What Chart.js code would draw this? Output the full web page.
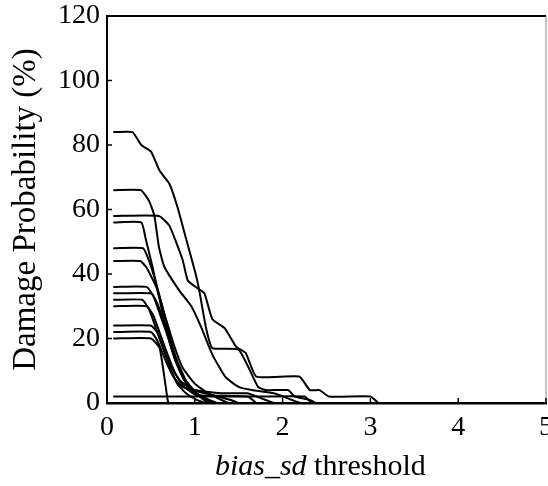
<!DOCTYPE html>
<html>
<head>
<meta charset="utf-8">
<script src="https://cdn.jsdelivr.net/npm/chart.js@4/dist/chart.umd.min.js"></script>
<style>
  html, body { margin: 0; padding: 0; background: #fff; }
  #wrap { position: relative; width: 548px; height: 486px; }
</style>
</head>
<body>
<div id="wrap"><canvas id="c" width="548" height="486"></canvas></div>
<script>
// ---- data (x = bias_sd threshold, y = damage probability %) ----
const xTickValues = [0, 1, 2, 3, 4, 5];
const yTickValues = [0, 20, 40, 60, 80, 100, 120];
const xTitleItalic = "bias_sd";
const xTitleRest = " threshold";
const yTitle = "Damage Probability (%)";

const curve84 = [[0.08,84],[0.29,84],[0.39,80],[0.5,78],[0.6,72],[0.71,68],[0.8,61],[0.9,51],[1.01,40],[1.05,35],[1.13,23],[1.2,17],[1.5,16.5],[1.72,5],[1.81,4],[2.06,4],[2.14,2],[2.3,1],[2.38,0]];
const curve66 = [[0.08,66],[0.385,66],[0.48,62.6],[0.54,58],[0.59,48.6],[0.65,42.4],[0.82,35],[0.96,30],[1.07,23.7],[1.2,15],[1.35,8],[1.5,5],[1.65,4],[1.9,3],[2.1,1],[2.2,0]];
const curve58 = [[0.08,58],[0.59,58],[0.71,55],[0.86,44.5],[0.92,38],[1.03,35.6],[1.11,34],[1.2,26],[1.34,23.2],[1.47,17.5],[1.58,15.5],[1.7,8.2],[2.19,8.2],[2.31,4],[2.42,4],[2.53,2],[3.0,2],[3.09,0]];
const curve56 = [[0.08,56],[0.39,56],[0.44,51],[0.52,42],[0.6,32],[0.68,22],[0.77,14],[0.87,8],[0.97,4],[1.08,1.5],[1.15,0]];
const curve48 = [[0.08,48],[0.41,48],[0.48,44],[0.55,38],[0.63,30],[0.71,21],[0.8,13],[0.9,7],[1.02,3],[1.15,0]];
const curve44 = [[0.08,44],[0.38,44],[0.45,42],[0.56,36],[0.65,28],[0.75,19],[0.86,11],[1.0,6],[1.15,3],[1.3,1],[1.38,0]];
const curve36 = [[0.08,36],[0.45,36],[0.53,33],[0.61,27],[0.7,20],[0.78,13],[0.88,7],[1.0,3],[1.12,1],[1.2,0]];
const curve34 = [[0.08,34],[0.5,34],[0.57,31],[0.65,25],[0.74,17],[0.83,10],[0.93,5],[1.08,2],[1.25,0]];
const curve32 = [[0.08,32],[0.4,32],[0.48,29],[0.56,23],[0.64,17],[0.72,12],[0.83,7],[0.98,4],[1.2,2.5],[1.4,1],[1.5,0]];
const curve30 = [[0.08,30],[0.45,30],[0.53,27],[0.61,21],[0.69,15],[0.78,9],[0.88,5],[1.02,2.5],[1.6,2],[1.7,0]];
const curve24 = [[0.08,24],[0.5,24],[0.57,22],[0.64,17],[0.72,11],[0.8,6],[0.9,3],[1.02,1],[1.12,0]];
const curve22 = [[0.08,22],[0.5,22],[0.58,19],[0.67,13],[0.76,8],[0.86,5],[1.0,4],[1.3,3],[1.6,3],[1.8,1],[1.9,0]];
const curve20 = [[0.08,20],[0.5,20],[0.6,17],[0.69,1],[0.7,0]];
const curve02 = [[0.08,2],[0.6,2],[1.2,2],[1.8,2],[2.25,2],[2.33,0]];

const allCurves = [curve84, curve66, curve58, curve56, curve48, curve44, curve36, curve34, curve32, curve30, curve24, curve22, curve20, curve02];

const serif = "'Liberation Serif', 'Times New Roman', serif";

const datasets = allCurves.map(c => ({
  data: c.map(p => ({ x: p[0], y: p[1] })),
  borderColor: '#000',
  borderWidth: 2,
  pointRadius: 0,
  fill: false,
  tension: 0.15,
  borderJoinStyle: 'round',
  borderCapStyle: 'round'
}));

const framePlugin = {
  id: 'frame',
  afterDraw(chart) {
    const ctx = chart.ctx;
    const a = chart.chartArea;
    const xs = chart.scales.x, ys = chart.scales.y;
    ctx.save();
    ctx.strokeStyle = '#000';
    ctx.lineWidth = 2;
    ctx.beginPath(); ctx.moveTo(a.left, a.top); ctx.lineTo(a.right, a.top); ctx.stroke();
    ctx.strokeStyle = '#888';
    ctx.lineWidth = 1;
    ctx.beginPath(); ctx.moveTo(a.right, a.top); ctx.lineTo(a.right, a.bottom); ctx.stroke();
    ctx.strokeStyle = '#000';
    ctx.lineWidth = 1.5;
    yTickValues.forEach(v => {
      const py = ys.getPixelForValue(v);
      ctx.beginPath(); ctx.moveTo(a.left, py); ctx.lineTo(a.left + 5, py); ctx.stroke();
    });
    xTickValues.forEach(v => {
      const px = xs.getPixelForValue(v);
      ctx.beginPath(); ctx.moveTo(px, a.bottom); ctx.lineTo(px, a.bottom - 5); ctx.stroke();
    });
    ctx.fillStyle = '#000';
    ctx.textBaseline = 'alphabetic';
    const fItal = "italic 30px " + serif;
    const fNorm = "30px " + serif;
    ctx.font = fItal; const w1 = ctx.measureText(xTitleItalic).width;
    ctx.font = fNorm; const w2 = ctx.measureText(xTitleRest).width;
    const cx = xs.getPixelForValue(2.43);
    const startX = cx - (w1 + w2) / 2;
    const baseY = a.bottom + 72;
    ctx.font = fItal; ctx.textAlign = 'left';
    ctx.fillText(xTitleItalic, startX, baseY);
    ctx.font = fNorm;
    ctx.fillText(xTitleRest, startX + w1, baseY);
    ctx.restore();
  }
};

new Chart(document.getElementById('c'), {
  type: 'line',
  data: { datasets },
  options: {
    responsive: false,
    animation: false,
    layout: { padding: { top: 16, right: 2, left: 0, bottom: 0 } },
    plugins: { legend: { display: false }, tooltip: { enabled: false } },
    scales: {
      x: {
        type: 'linear', min: 0, max: 5,
        afterBuildTicks: s => { s.ticks = xTickValues.map(v => ({ value: v })); },
        ticks: { color: '#000', font: { family: serif, size: 28 }, padding: 8, maxRotation: 0 },
        grid: { display: false, drawTicks: false },
        border: { display: true, color: '#000', width: 2.5 },
        afterFit: s => { s.height = 83; s.paddingLeft = 0; s.paddingRight = 0; }
      },
      y: {
        type: 'linear', min: 0, max: 120,
        afterBuildTicks: s => { s.ticks = yTickValues.map(v => ({ value: v })); },
        ticks: { color: '#000', font: { family: serif, size: 28 }, padding: 7 },
        grid: { display: false, drawTicks: false },
        border: { display: true, color: '#000', width: 2 },
        title: { display: true, text: yTitle, color: '#000', font: { family: serif, size: 33 }, padding: { top: 7, bottom: 0 } },
        afterFit: s => { s.width = 107; s.paddingTop = 0; s.paddingBottom = 0; }
      }
    }
  },
  plugins: [framePlugin]
});
</script>
</body>
</html>
